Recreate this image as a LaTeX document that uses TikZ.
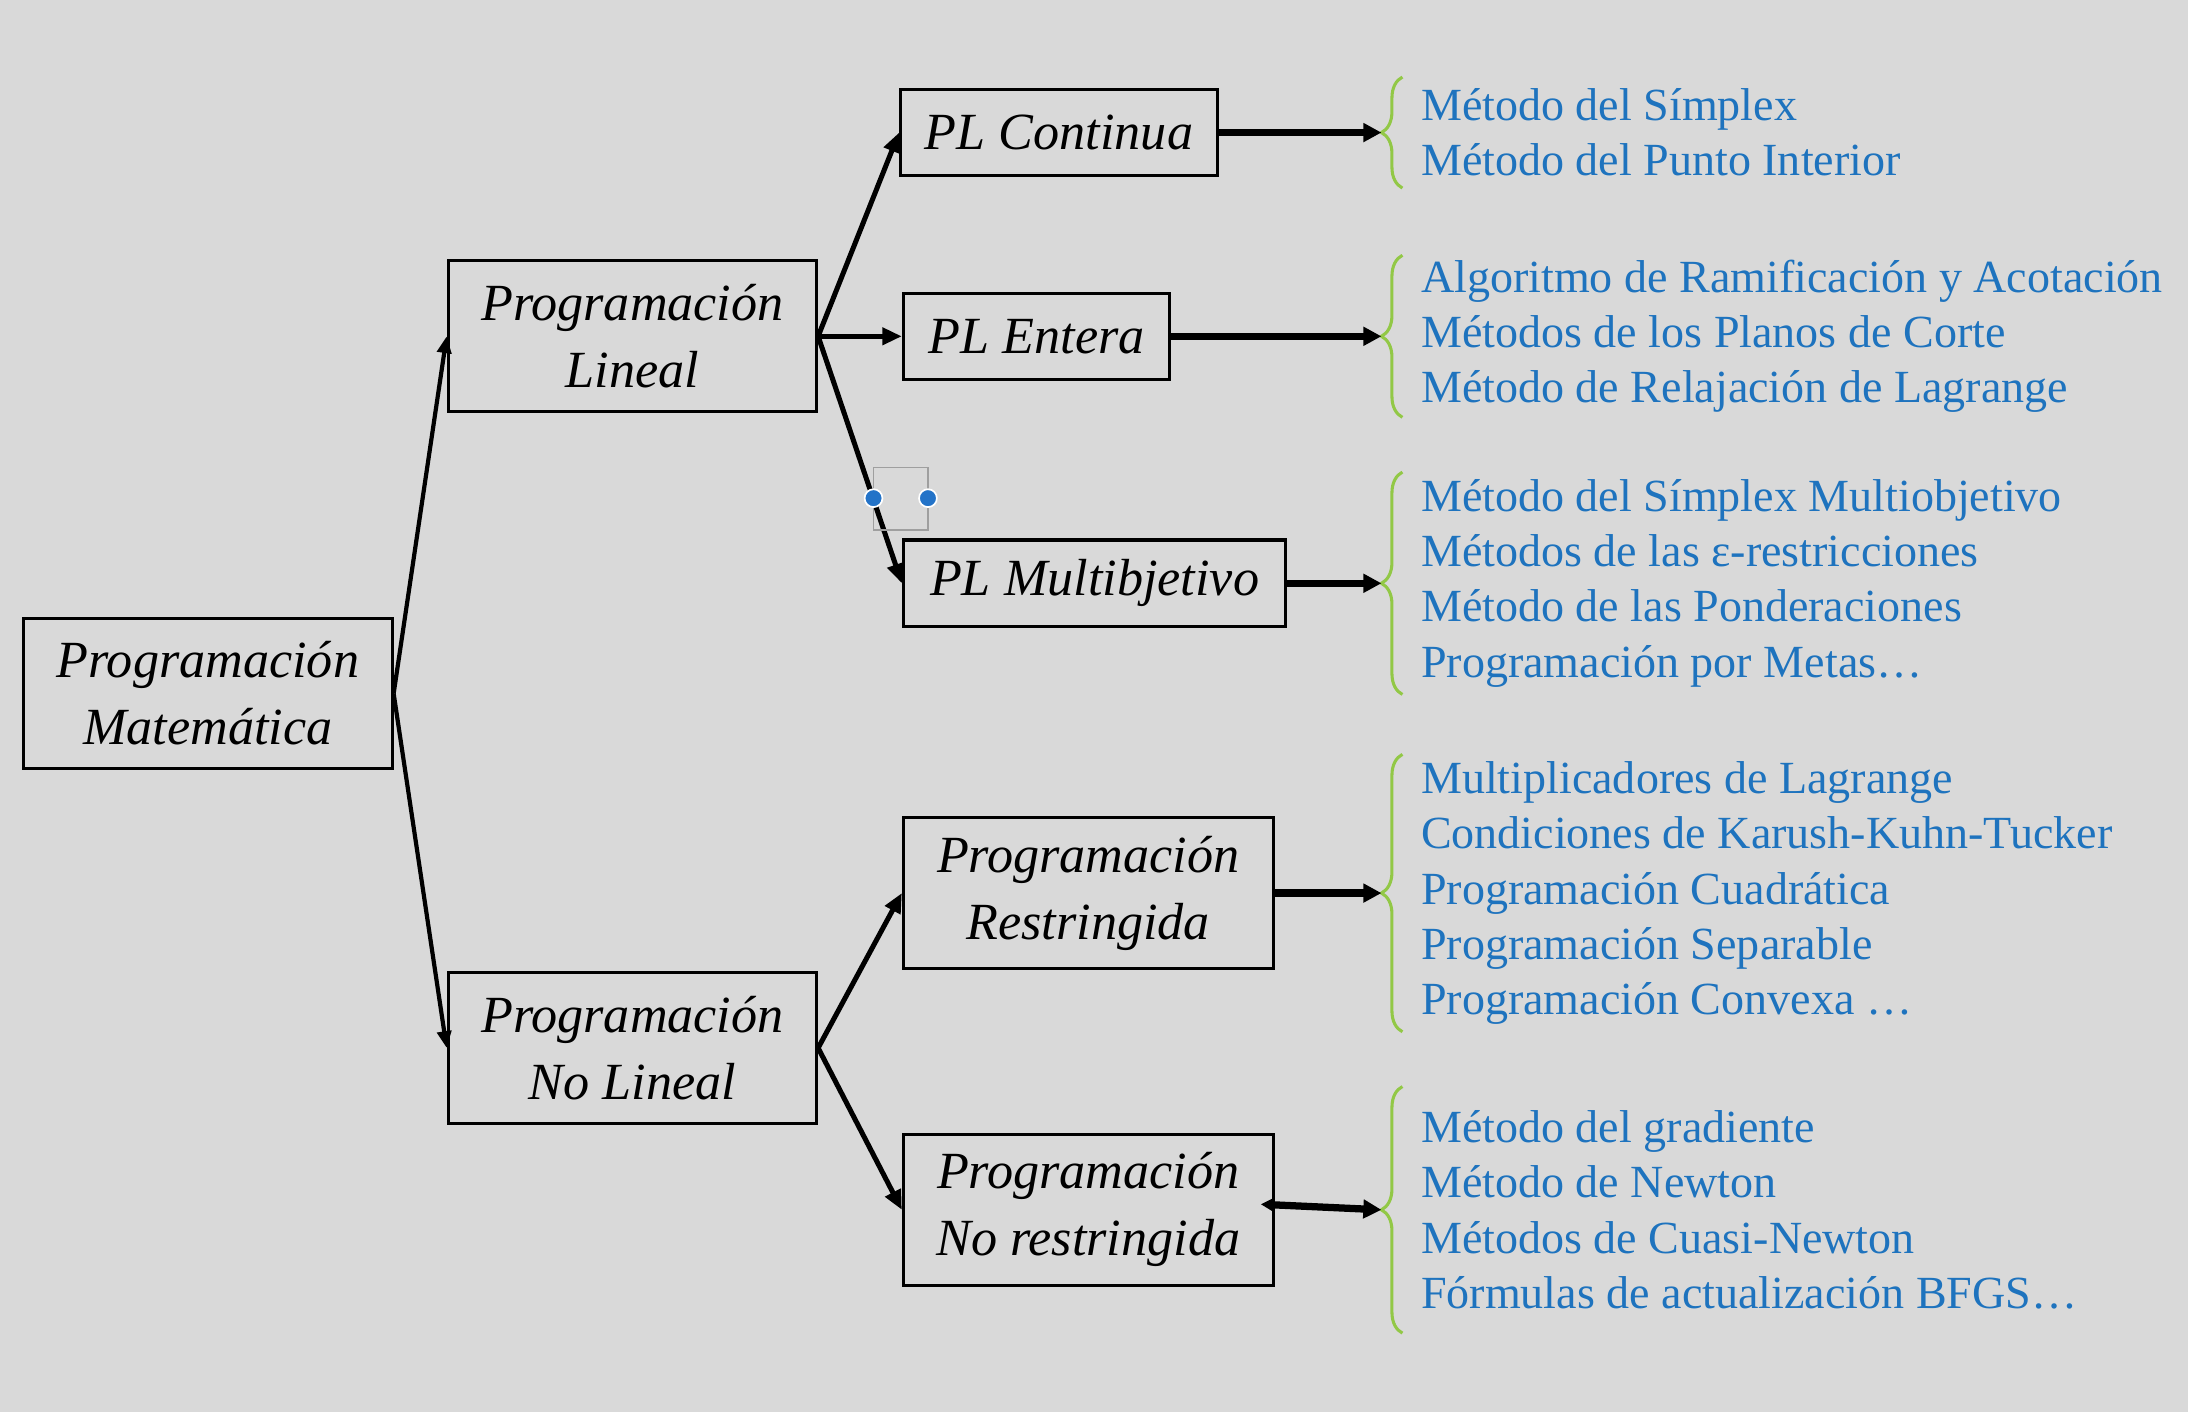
\documentclass[tikz,border=0pt]{standalone}
\usepackage{fontspec}
\setmainfont{Liberation Serif}
\usetikzlibrary{positioning,arrows.meta,decorations.pathreplacing}
\definecolor{bggray}{RGB}{217,217,217}
\definecolor{listblue}{RGB}{30,115,190}
\definecolor{bracegreen}{RGB}{146,200,70}
\definecolor{handleblue}{RGB}{35,115,200}

\begin{document}
\begin{tikzpicture}[
  node distance=30pt,
  box/.style={draw=black, line width=1.1pt, inner sep=0pt, align=center, font=\fontsize{18.7}{24}\selectfont\itshape},
  tall/.style={box, minimum width=132pt, minimum height=54pt},
  flat/.style={box, minimum height=31pt},
  methods/.style={anchor=west, align=left, inner sep=0pt, text=listblue, font=\fontsize{16.5}{19.75}\selectfont},
  branch/.style={line width=1.5pt, -{Triangle[length=6pt,width=5pt]}},
  subbranch/.style={line width=1.8pt, -{Triangle[length=7pt,width=6pt]}},
  feed/.style={line width=2.6pt, -{Triangle[length=6.5pt,width=6.5pt]}},
  curly/.style={draw=bracegreen, line width=1.1pt, decorate, decoration={brace, amplitude=7.5pt}}
]
  \useasboundingbox (0,0) rectangle (784pt,-506pt);
  \fill[bggray] (0,0) rectangle (784pt,-506pt);

  % tree of boxes
  \node (pm) [tall] at (74.5pt,-248.5pt) {Programación\\Matemática};

  \node (pl) [tall, right=19pt of pm, yshift=128pt] {Programación\\Lineal};
  \node (pnl) [tall, right=19pt of pm, yshift=-127pt] {Programación\\No Lineal};

  \node (plc) [flat, minimum width=113.5pt, right=29pt of pl, yshift=73pt] {PL Continua};
  \node (ple) [flat, minimum width=95.5pt, right=of pl] {PL Entera};
  \node (plm) [flat, minimum width=137pt, right=of pl, yshift=-88.5pt] {PL Multibjetivo};

  \node (pr) [tall, minimum width=132.5pt, right=of pnl, yshift=55.5pt] {Programación\\Restringida};
  \node (pnr) [tall, minimum width=132.5pt, right=of pnl, yshift=-58pt] {Programación\\No restringida};

  % method lists
  \coordinate (col) at (509pt,0);
  \node (m1) [methods] at (plc -| col) {Método del Símplex\\Método del Punto Interior};
  \node (m2) [methods] at (ple -| col) {Algoritmo de Ramificación y Acotación\\Métodos de los Planos de Corte\\Método de Relajación de Lagrange};
  \node (m3) [methods] at (plm -| col) {Método del Símplex Multiobjetivo\\Métodos de las ε-restricciones\\Método de las Ponderaciones\\Programación por Metas…};
  \node (m4) [methods] at (pr -| col) {Multiplicadores de Lagrange\\Condiciones de Karush-Kuhn-Tucker\\Programación Cuadrática\\Programación Separable\\Programación Convexa …};
  \node (m5) [methods] at (pnr -| col) {Método del gradiente\\Método de Newton\\Métodos de Cuasi-Newton\\Fórmulas de actualización BFGS…};

  \foreach \m/\e in {m1/4pt, m2/1.5pt, m3/2.5pt, m4/2.5pt, m5/8.5pt} {
    \draw[curly] ([shift={(-6.5pt,-\e)}]\m.south west) -- ([shift={(-6.5pt,\e)}]\m.north west);
    \coordinate (t\m) at ([xshift=-14pt]\m.west);
  }

  % connectors
  \draw[branch] (pm.east) -- (pl.west);
  \draw[branch] (pm.east) -- (pnl.west);
  \foreach \s in {plc,ple,plm} \draw[subbranch] (pl.east) -- (\s.west);
  \foreach \s in {pr,pnr} \draw[subbranch] (pnl.east) -- (\s.west);

  \draw[feed] (plc.east) -- (tm1);
  \draw[feed] (ple.east) -- (tm2);
  \draw[feed] (plm.east) -- (tm3);
  \draw[feed] (pr.east) -- (tm4);
  \draw[feed, {Triangle[length=4.5pt,width=4.5pt]}-{Triangle[length=6.5pt,width=6.5pt]}] ([xshift=-5pt,yshift=2pt]pnr.east) -- (tm5);

  % selection handles
  \draw[gray!75, line width=0.6pt] (313pt,-167.5pt) rectangle (332.5pt,-190pt);
  \foreach \x in {313pt,332.5pt}
    \filldraw[fill=handleblue, draw=white, line width=0.6pt] (\x,-178.5pt) circle (3.2pt);
\end{tikzpicture}
\end{document}
